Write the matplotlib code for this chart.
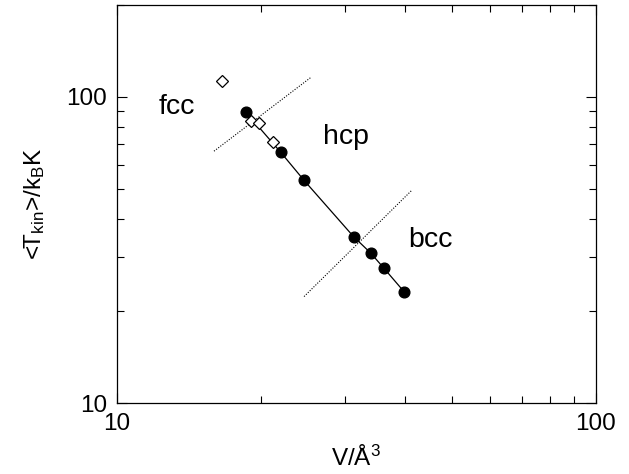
import matplotlib
matplotlib.use("Agg")
import matplotlib.pyplot as plt
from matplotlib.ticker import LogLocator, FuncFormatter, NullFormatter

plt.rcParams['font.family'] = ['Liberation Sans', 'DejaVu Sans']
plt.rcParams['mathtext.fontset'] = 'custom'
plt.rcParams['mathtext.rm'] = 'Liberation Sans'
plt.rcParams['mathtext.it'] = 'Liberation Sans:italic'

# filled circles (connected by solid line)
v_circ = [18.6, 22.0, 24.6, 31.2, 33.9, 36.1, 39.8]
t_circ = [89.2, 65.9, 53.4, 35.0, 30.9, 27.6, 23.1]

# open diamonds
v_diam = [16.6, 19.1, 19.8, 21.2]
t_diam = [113.0, 83.4, 81.9, 71.3]

# dotted phase boundaries
v_fcc_hcp = [15.96, 25.5]
t_fcc_hcp = [66.5, 116.2]
v_hcp_bcc = [24.6, 41.3]
t_hcp_bcc = [22.3, 49.6]

phase_labels = ['fcc', 'hcp', 'bcc']
phase_v = [13.35, 30.1, 45.2]
phase_t = [92.5, 73.9, 34.1]

fig = plt.figure(figsize=(6.29, 4.74), dpi=100)
ax = fig.add_axes([0.1855, 0.1492, 0.762, 0.841])

ax.plot(v_circ, t_circ, '-', color='black', lw=0.9, zorder=2)
ax.plot(v_circ, t_circ, 'o', color='black', ms=7.7, zorder=3)
ax.plot(v_diam, t_diam, 'D', mfc='white', mec='black', mew=0.9, ms=6, zorder=4)
ax.plot(v_fcc_hcp, t_fcc_hcp, color='black', lw=0.8, ls=(0, (1, 1.4)))
ax.plot(v_hcp_bcc, t_hcp_bcc, color='black', lw=0.8, ls=(0, (1, 1.4)))

for lab, v, t in zip(phase_labels, phase_v, phase_t):
    ax.text(v, t, lab, fontsize=20.5, ha='center', va='center')

ax.set_xscale('log')
ax.set_yscale('log')
ax.set_xlim(10, 100)
ax.set_ylim(10, 200)

fmt = FuncFormatter(lambda x, p: '%d' % round(x))
for axis in (ax.xaxis, ax.yaxis):
    axis.set_major_locator(LogLocator(base=10))
    axis.set_minor_locator(LogLocator(base=10, subs=range(2, 10)))
    axis.set_major_formatter(fmt)
    axis.set_minor_formatter(NullFormatter())

ax.tick_params(which='both', direction='in', top=True, right=True, labelsize=17.5, width=0.8)
ax.tick_params(which='major', length=7.2, pad=7)
ax.tick_params(which='minor', length=4.8)
for s in ax.spines.values():
    s.set_linewidth(0.9)

ax.set_xlabel(r'V/Å$^3$', fontsize=17.5, labelpad=8)
ax.set_ylabel(r'<T$_{\rm kin}$>/k$_{\rm B}$K', fontsize=17.5, labelpad=14)

fig.savefig('out.png', dpi=100)
